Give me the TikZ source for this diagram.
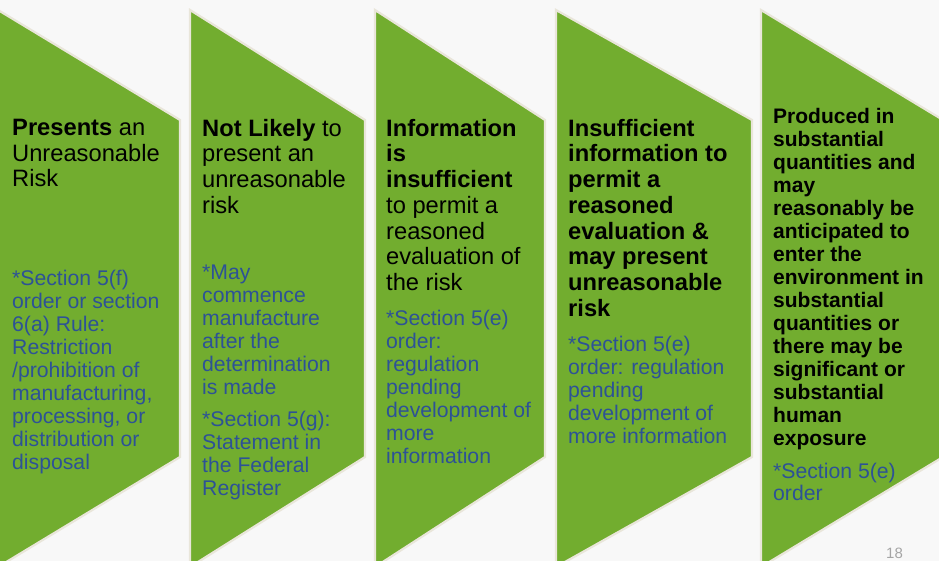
\documentclass[tikz,border=0pt]{standalone}
\usepackage{fontspec}
\setmainfont{Liberation Sans}
\definecolor{canvas}{RGB}{248,248,248}
\definecolor{leaf}{RGB}{114,173,47}
\definecolor{rim}{RGB}{233,230,218}
\definecolor{note}{RGB}{45,82,150}
\definecolor{pageno}{RGB}{165,165,165}
\begin{document}
\begin{tikzpicture}[x=1pt,y=-1pt,
  chevron/.style={fill=leaf, draw=rim, line width=2.2pt, line join=miter},
  head/.style={anchor=north west, inner sep=0pt, align=left, text=black,
    font=\fontsize{23.7}{25.7}\selectfont},
  headsmall/.style={anchor=north west, inner sep=0pt, align=left, text=black,
    font=\fontsize{21}{23}\selectfont\bfseries},
  notetext/.style={anchor=north west, inner sep=0pt, align=left, text=note,
    font=\fontsize{21.2}{23}\selectfont},
  pagenum/.style={anchor=base west, inner sep=0pt, text=pageno,
    font=\fontsize{15}{18}\selectfont}]
\useasboundingbox (0,0) rectangle (939,561);
\clip (0,0) rectangle (939,561);
\fill[canvas] (0,0) rectangle (939,561);

% five downward chevrons: left edge, right edge
\foreach \l/\r in {-2/180, 190/365, 375/545, 556/752, 761/943}
  \draw[chevron] (\l,10) -- (\r,120) -- (\r,457) -- (\l,567) -- cycle;

% step 1
\node[head] (h1) at (12,118.9) {\textbf{Presents} an\\Unreasonable\\Risk};
\node[notetext] (n1) at (12,270.3) {*Section 5(f)\\order or section\\6(a) Rule:\\Restriction\\/prohibition of\\manufacturing,\\processing, or\\distribution or\\disposal};

% step 2
\node[head] (h2) at (202,118.9) {\textbf{Not Likely} to\\present an\\unreasonable\\risk};
\node[notetext] (n2) at (202,264.7) {*May\\commence\\manufacture\\after the\\determination\\is made\\[9.5pt]*Section 5(g):\\Statement in\\the Federal\\Register};

% step 3
\node[head] (h3) at (386,118.9) {\textbf{Information}\\\textbf{is}\\\textbf{insufficient}\\to permit a\\reasoned\\evaluation of\\the risk};
\node[notetext] (n3) at (386,309.7) {*Section 5(e)\\order:\\regulation\\pending\\development of\\more\\information};

% step 4
\node[head, font=\fontsize{23.7}{25.7}\selectfont\bfseries] (h4) at (568,118.9) {Insufficient\\information to\\permit a\\reasoned\\evaluation \&\\may present\\unreasonable\\risk};
\node[notetext] (n4) at (568,336.4) {*Section 5(e)\\order: regulation\\pending\\development of\\more information};

% step 5
\node[headsmall] (h5) at (773,108.2) {Produced in\\substantial\\quantities and\\may\\reasonably be\\anticipated to\\enter the\\environment in\\substantial\\quantities or\\there may be\\significant or\\substantial\\human\\exposure};
\node[notetext, font=\fontsize{21.2}{22}\selectfont] (n5) at (773,463) {*Section 5(e)\\order};

\node[pagenum] (pg) at (886,558) {18};
\end{tikzpicture}
\end{document}
